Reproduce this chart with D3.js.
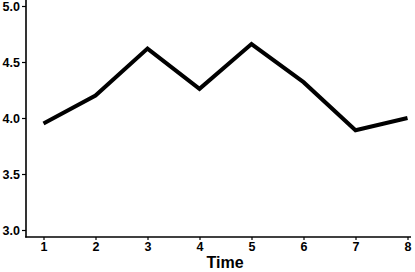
<!DOCTYPE html>
<html><head><meta charset="utf-8">
<script src="https://cdn.jsdelivr.net/npm/d3@7"></script>
<style>body{margin:0;background:#fff}svg{display:block}</style>
</head><body>
<svg id="c" width="415" height="272"></svg>
<script>
const times = [1,2,3,4,5,6,7,8];
const values = [3.95,4.20,4.62,4.26,4.66,4.32,3.89,4.00];
const yTicks = [3.0,3.5,4.0,4.5,5.0];
const xLabel = "Time";

const svg = d3.select("#c");
const x = d3.scaleLinear().domain([1,8]).range([43.5,407.5]);
const y = d3.scaleLinear().domain([3,5]).range([230,6]);
const font = "'Liberation Sans', Arial, sans-serif";

const gy = svg.append("g").attr("transform","translate(26,0)")
  .call(d3.axisLeft(y).tickValues(yTicks).tickFormat(d3.format(".1f")).tickSize(4).tickPadding(2));
const gx = svg.append("g").attr("transform","translate(0,237)")
  .call(d3.axisBottom(x).tickValues(times).tickFormat(d3.format("d")).tickSize(3).tickPadding(2));
[gy,gx].forEach(g=>{
  g.select(".domain").remove();
  g.selectAll(".tick line").attr("stroke","#000").attr("stroke-width",1.2);
  g.selectAll(".tick text").attr("fill","#000").style("font-family",font)
   .style("font-weight","bold").style("font-size","12.5px");
});
// axis lines
svg.append("line").attr("x1",26).attr("x2",26).attr("y1",0).attr("y2",237.5)
  .attr("stroke","#000").attr("stroke-width",1.6);
svg.append("line").attr("x1",25.2).attr("x2",411).attr("y1",237).attr("y2",237)
  .attr("stroke","#000").attr("stroke-width",1.6);

svg.append("path").datum(times.map((t,i)=>[t,values[i]]))
  .attr("d",d3.line().x(d=>x(d[0])).y(d=>y(d[1])))
  .attr("fill","none").attr("stroke","#000").attr("stroke-width",4);

svg.append("text").attr("x",225).attr("y",268).attr("text-anchor","middle")
  .style("font-family",font).style("font-weight","bold").style("font-size","16px").text(xLabel);
</script>
</body></html>
